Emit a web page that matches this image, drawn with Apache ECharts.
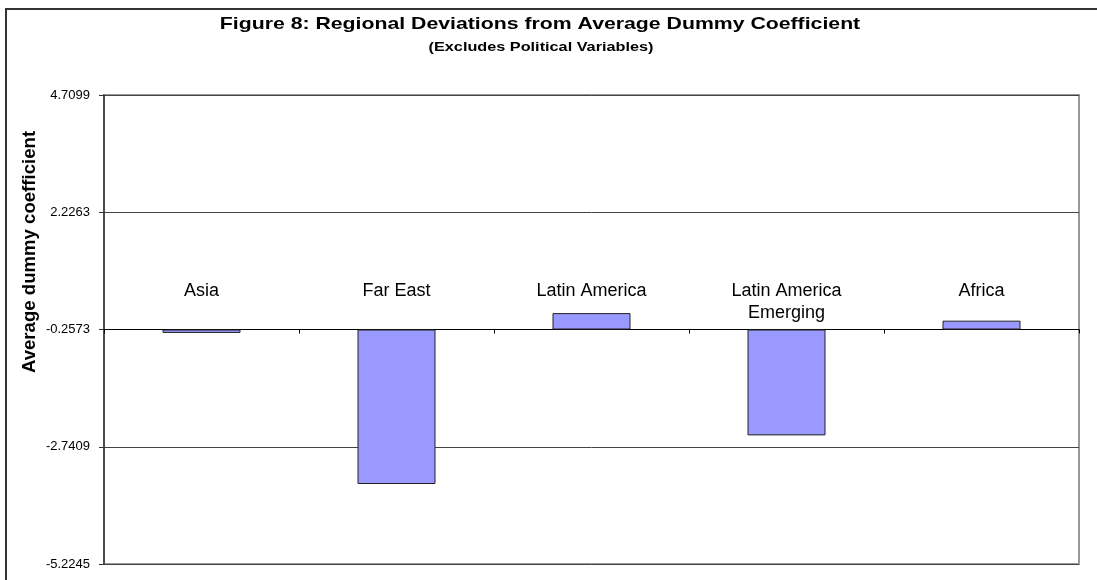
<!DOCTYPE html>
<html>
<head>
<meta charset="utf-8">
<script src="https://cdn.jsdelivr.net/npm/echarts@6/dist/echarts.min.js"></script>
<style>html,body{margin:0;padding:0;background:#fff;}#c{width:1097px;height:580px;}</style>
</head>
<body>
<div id="c"></div>
<script>
// Data
const categories = ['Asia', 'Far East', 'Latin America', 'Latin America\nEmerging', 'Africa'];
const values = [-0.33, -3.53, 0.09, -2.50, -0.07];
const yTickLabels = ['-5.2245', '-2.7409', '-0.2573', '2.2263', '4.7099'];
const crossValue = -0.2573; // horizontal axis crosses here
const titleText = 'Figure 8: Regional Deviations from Average Dummy Coefficient';
const subtitleText = '(Excludes Political Variables)';
const yAxisName = 'Average dummy coefficient';

const FONT = '"Liberation Sans", Arial, sans-serif';
const ticksNum = yTickLabels.map(Number);
const interval = ticksNum[1] - ticksNum[0];
const shiftedMin = ticksNum[0] - crossValue;
const shiftedMax = ticksNum[ticksNum.length - 1] - crossValue;
const shifted = values.map(v => v - crossValue);

const chart = echarts.init(document.getElementById('c'), null, {renderer: 'canvas'});
chart.setOption({
  backgroundColor: '#ffffff',
  animation: false,
  textStyle: {fontFamily: FONT},
  graphic: [
    {type: 'rect', shape: {x: 6, y: 9, width: 1200, height: 700}, style: {fill: 'none', stroke: '#333', lineWidth: 2}, silent: true},
    {type: 'text', x: 540, y: 24, scaleX: 1.25, style: {text: titleText, font: 'bold 17px ' + FONT, fill: '#000', textAlign: 'center', textVerticalAlign: 'middle'}},
    {type: 'text', x: 541, y: 47, scaleX: 1.25, style: {text: subtitleText, font: 'bold 13px ' + FONT, fill: '#000', textAlign: 'center', textVerticalAlign: 'middle'}},
    {type: 'text', x: 30, y: 252, rotation: Math.PI / 2, style: {text: yAxisName, font: 'bold 18.6px ' + FONT, fill: '#000', textAlign: 'center', textVerticalAlign: 'middle'}}
  ],
  grid: {left: 104, right: 18, top: 95, bottom: 16, show: true, borderColor: '#999', borderWidth: 2, backgroundColor: '#fff'},
  xAxis: {
    type: 'category',
    data: categories,
    axisLine: {onZero: true, lineStyle: {color: '#000', width: 1}},
    axisTick: {show: true, inside: false, length: 4, lineStyle: {color: '#000'}},
    axisLabel: {inside: true, margin: 284, verticalAlign: 'top', color: '#000', fontSize: 18, lineHeight: 22, fontFamily: FONT, interval: 0}
  },
  yAxis: {
    type: 'value',
    min: shiftedMin,
    max: shiftedMax,
    interval: interval,
    axisLine: {show: true, lineStyle: {color: '#333', width: 1.5}},
    axisTick: {show: true, length: 5, lineStyle: {color: '#333'}},
    axisLabel: {color: '#000', fontSize: 13, fontFamily: FONT, margin: 14,
      formatter: function (v) {
        const idx = Math.round((v - shiftedMin) / interval);
        return yTickLabels[idx] !== undefined ? yTickLabels[idx] : '';
      }},
    splitLine: {show: true, lineStyle: {color: '#444', width: 1}}
  },
  series: [{
    type: 'bar',
    data: shifted,
    barWidth: '40%',
    itemStyle: {color: '#9999ff', borderColor: '#222', borderWidth: 1}
  }]
});
</script>
</body>
</html>
